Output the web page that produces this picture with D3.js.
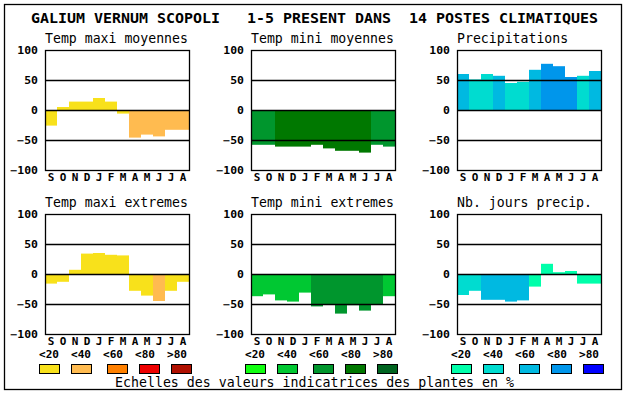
<!DOCTYPE html>
<html>
<head>
<meta charset="utf-8">
<script src="https://cdn.jsdelivr.net/npm/d3@7"></script>
<style>
  body { margin: 0; background: #fff; }
  svg { display: block; }
  text { font-family: "DejaVu Sans Mono", monospace; fill: #000; }
</style>
</head>
<body>
<svg id="chart" width="630" height="394"></svg>
<script>
const months = ["S", "O", "N", "D", "J", "F", "M", "A", "M", "J", "J", "A"]
const yTicks = [100, 50, 0, -50, -100]
const classLabels = ["<20", "<40", "<60", "<80", ">80"]

const warm = ["#f8e11b", "#ffbb50", "#ff8000", "#ee0000", "#b01000"]
const greens = ["#10ff10", "#00c832", "#00962d", "#007800", "#006420"]
const blues = ["#00ffaa", "#00dcd0", "#00b9e1", "#0096eb", "#0000ff"]

const tmaxMoy = [-26, 5, 14, 14, 20, 14, -6, -46, -41, -44, -33, -33]
const tmaxMoyCls = [0, 0, 0, 0, 0, 0, 0, 1, 1, 1, 1, 1]
const tminMoy = [-58, -58, -61, -61, -61, -58, -64, -68, -68, -71, -58, -61]
const tminMoyCls = [2, 2, 3, 3, 3, 3, 3, 3, 3, 3, 2, 2]
const precip = [60, 51, 60, 57, 45, 47, 67, 77, 73, 55, 57, 65]
const precipCls = [2, 1, 1, 2, 1, 1, 2, 3, 3, 3, 1, 2]
const tmaxExt = [-16, -13, 7, 34, 35, 32, 31, -28, -36, -45, -28, -13]
const tmaxExtCls = [0, 0, 0, 0, 0, 0, 0, 0, 0, 1, 0, 0]
const tminExt = [-37, -34, -44, -46, -31, -54, -50, -66, -52, -61, -50, -37]
const tminExtCls = [1, 1, 1, 1, 1, 2, 2, 2, 2, 2, 2, 1]
const jours = [-35, -28, -43, -43, -46, -44, -21, 17, 3, 5, -16, -16]
const joursCls = [1, 1, 2, 2, 2, 2, 0, 0, 0, 0, 0, 0]

const panels = [
  { title: "Temp maxi moyennes", values: tmaxMoy, cls: tmaxMoyCls, pal: warm, col: 0, row: 0 },
  { title: "Temp mini moyennes", values: tminMoy, cls: tminMoyCls, pal: greens, col: 1, row: 0 },
  { title: "Precipitations", values: precip, cls: precipCls, pal: blues, col: 2, row: 0 },
  { title: "Temp maxi extremes", values: tmaxExt, cls: tmaxExtCls, pal: warm, col: 0, row: 1 },
  { title: "Temp mini extremes", values: tminExt, cls: tminExtCls, pal: greens, col: 1, row: 1 },
  { title: "Nb. jours precip.", values: jours, cls: joursCls, pal: blues, col: 2, row: 1 }
]

const chart = d3.select('#chart')

// outer frame
chart.append('rect')
  .attr('x', 4.5).attr('y', 4.5)
  .attr('width', 617).attr('height', 385)
  .attr('fill', 'none').attr('stroke', '#000').attr('stroke-width', 1.3)

chart.append('text')
  .attr('x', 31).attr('y', 23)
  .attr('font-size', 14).attr('font-weight', 'bold')
  .attr('textLength', 567).attr('lengthAdjust', 'spacingAndGlyphs')
  .style('white-space', 'pre')
  .text("GALIUM VERNUM SCOPOLI   1-5 PRESENT DANS  14 POSTES CLIMATIQUES")

const colX = [45, 251, 457]
const rowY = [50, 214]
const W = 144, H = 120

panels.forEach(p => {
  const x0 = colX[p.col], y0 = rowY[p.row]
  const g = chart.append('g')
  const x = d3.scaleBand().domain(d3.range(12)).range([x0, x0 + W])
  const y = d3.scaleLinear().domain([-100, 100]).range([y0 + H, y0])

  g.append('text')
    .attr('x', x0).attr('y', y0 - 6.7)
    .attr('font-size', 13.2)
    .attr('textLength', p.title.length * 7.94).attr('lengthAdjust', 'spacingAndGlyphs')
    .text(p.title)

  // bars
  g.selectAll('rect.bar')
    .data(p.values)
    .enter()
    .append('rect')
    .attr('class', 'bar')
    .attr('x', (d, i) => x(i))
    .attr('width', x.bandwidth())
    .attr('y', d => y(Math.max(0, d)))
    .attr('height', d => Math.abs(y(d) - y(0)))
    .attr('fill', (d, i) => p.pal[p.cls[i]])

  // grid lines over bars
  g.selectAll('line.grid')
    .data([50, 0, -50])
    .enter()
    .append('line')
    .attr('x1', x0).attr('x2', x0 + W)
    .attr('y1', d => y(d) + 0.5).attr('y2', d => y(d) + 0.5)
    .attr('stroke', '#000').attr('stroke-width', 1.3)

  g.append('rect')
    .attr('x', x0 + 0.5).attr('y', y0 + 0.5)
    .attr('width', W).attr('height', H)
    .attr('fill', 'none').attr('stroke', '#000').attr('stroke-width', 1.3)

  // y axis labels
  const yAxis = d3.axisLeft(y).tickValues(yTicks).tickSize(0).tickPadding(7)
  const ax = g.append('g')
    .attr('transform', `translate(${x0}, 0)`)
    .call(yAxis)
  ax.select('.domain').remove()
  ax.selectAll('text')
    .attr('font-family', '"DejaVu Sans Mono", monospace')
    .attr('font-size', 9.6).attr('font-weight', 'bold')
    .attr('fill', '#000')
    .attr('dy', null).attr('y', 3.7)
    .attr('textLength', d => String(d).length * 6.9)
    .attr('lengthAdjust', 'spacingAndGlyphs')

  // month letters
  g.selectAll('text.month')
    .data(months)
    .enter()
    .append('text')
    .attr('class', 'month')
    .attr('x', (d, i) => x(i) + x.bandwidth() / 2)
    .attr('y', y0 + H + 10.7)
    .attr('text-anchor', 'middle')
    .attr('font-size', 9.6).attr('font-weight', 'bold')
    .attr('textLength', 6.6).attr('lengthAdjust', 'spacingAndGlyphs')
    .text(d => d)

  // legend under bottom row
  if (p.row === 1) {
    const swatchOff = [-6, 26, 62, 94, 126]
    const lg = chart.append('g')
    lg.selectAll('text')
      .data(classLabels)
      .enter()
      .append('text')
      .attr('x', (d, i) => x0 + 4 + i * 32)
      .attr('y', 357.6)
      .attr('text-anchor', 'middle')
      .attr('font-size', 9.6).attr('font-weight', 'bold')
      .attr('textLength', 20).attr('lengthAdjust', 'spacingAndGlyphs')
      .text(d => d)
    lg.selectAll('rect')
      .data(p.pal)
      .enter()
      .append('rect')
      .attr('x', (d, i) => x0 + swatchOff[i] + 0.5)
      .attr('y', 364.5)
      .attr('width', 20).attr('height', 9)
      .attr('fill', d => d)
      .attr('stroke', '#000').attr('stroke-width', 1)
  }
})

chart.append('text')
  .attr('x', 115).attr('y', 387)
  .attr('font-size', 13.2)
  .attr('textLength', 399).attr('lengthAdjust', 'spacingAndGlyphs')
  .text("Echelles des valeurs indicatrices des plantes en %")
</script>
</body>
</html>
